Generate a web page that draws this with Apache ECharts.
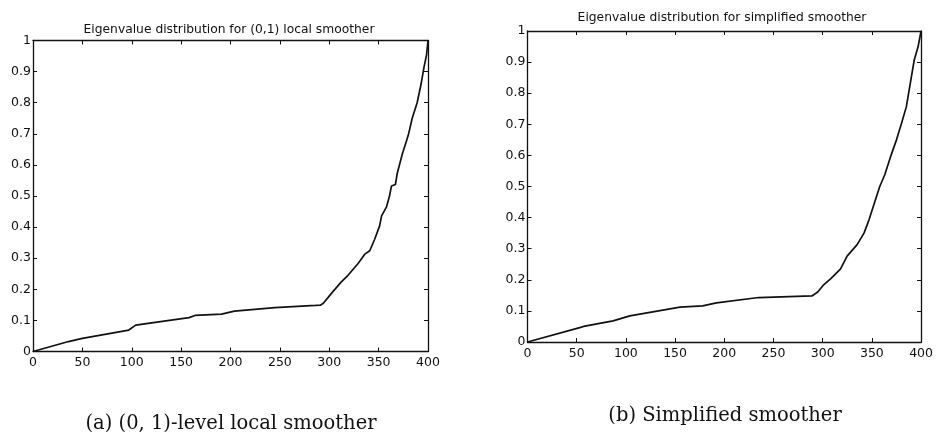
<!DOCTYPE html>
<html>
<head>
<meta charset="utf-8">
<title>Eigenvalue distribution</title>
<script src="https://cdn.jsdelivr.net/npm/echarts@6/dist/echarts.min.js"></script>
<style>
  html, body { margin: 0; padding: 0; background: #fff; }
  #chart { width: 936px; height: 436px; }
</style>
</head>
<body>
<div id="chart"></div>
<script>
// tick values for both plots
var xTicks = [0, 50, 100, 150, 200, 250, 300, 350, 400];
var yTicks = [0, 0.1, 0.2, 0.3, 0.4, 0.5, 0.6, 0.7, 0.8, 0.9, 1];

// (a) (0,1) local smoother - eigenvalues
var localX = [0, 36, 50, 97, 104, 158, 164, 191, 204, 245, 286, 291, 294, 302, 312, 319, 329, 336, 341, 346,
  351, 353, 358, 361, 363, 367, 369, 374, 380, 384, 389, 393, 396, 398.5, 400];
var localY = [0, 0.032, 0.042, 0.069, 0.085, 0.109, 0.116, 0.120, 0.130, 0.141, 0.148, 0.149, 0.155, 0.186, 0.223, 0.245, 0.282, 0.313, 0.324, 0.361,
  0.404, 0.436, 0.465, 0.500, 0.532, 0.537, 0.575, 0.635, 0.695, 0.750, 0.800, 0.860, 0.915, 0.953, 1.0];

// (b) simplified smoother
var simpleX = [0, 54, 57, 87, 104, 155, 178, 192, 235, 289, 295, 301, 308, 318, 325, 335, 342, 347, 352, 358,
  363, 369, 375, 380, 385, 389, 393, 397, 400];
var simpleY = [0, 0.047, 0.050, 0.068, 0.084, 0.112, 0.116, 0.126, 0.143, 0.148, 0.161, 0.184, 0.203, 0.234, 0.277, 0.313, 0.350, 0.392, 0.441, 0.500,
  0.537, 0.596, 0.650, 0.702, 0.756, 0.831, 0.906, 0.950, 1.0];

var titles = ['Eigenvalue distribution for (0,1) local smoother', 'Eigenvalue distribution for simplified smoother'];
var captions = ['(a) (0, 1)-level local smoother', '(b) Simplified smoother'];

function zip(xs, ys) {
  var out = [];
  for (var i = 0; i < xs.length; i++) out.push([xs[i], ys[i]]);
  return out;
}

var ink = '#111';
var tickFont = { color: ink, fontFamily: 'DejaVu Sans', fontSize: 12.5 };

// one matlab style box: bottom/left axes carry labels, top/right only ticks
function xAxisFor(grid, pos) {
  return {
    gridIndex: grid, type: 'value', position: pos,
    min: xTicks[0], max: xTicks[xTicks.length - 1], interval: xTicks[1] - xTicks[0],
    axisLine: { show: true, onZero: false, lineStyle: { color: ink, width: 1.3 } },
    axisTick: { show: true, inside: true, length: 4, lineStyle: { color: ink } },
    axisLabel: pos === 'bottom' ? Object.assign({ show: true, margin: 5 }, tickFont) : { show: false },
    splitLine: { show: false }
  };
}
function yAxisFor(grid, pos) {
  return {
    gridIndex: grid, type: 'value', position: pos,
    min: yTicks[0], max: yTicks[yTicks.length - 1], interval: 0.1,
    axisLine: { show: true, onZero: false, lineStyle: { color: ink, width: 1.3 } },
    axisTick: { show: true, inside: true, length: 4, lineStyle: { color: ink } },
    axisLabel: pos === 'left' ? Object.assign({ show: true, margin: 2 }, tickFont) : { show: false },
    splitLine: { show: false }
  };
}

function textAt(x, y, text, font, size) {
  return {
    type: 'text', x: x, y: y,
    style: { text: text, fill: ink, fontFamily: font, fontSize: size, align: 'center', verticalAlign: 'middle' }
  };
}

var myChart = echarts.init(document.getElementById('chart'));
var option = {
  animation: false,
  backgroundColor: '#fff',
  grid: [
    { left: 33, top: 40.5, width: 395, height: 311 },
    { left: 527.5, top: 31, width: 395, height: 311 }
  ],
  xAxis: [xAxisFor(0, 'bottom'), xAxisFor(0, 'top'), xAxisFor(1, 'bottom'), xAxisFor(1, 'top')],
  yAxis: [yAxisFor(0, 'left'), yAxisFor(0, 'right'), yAxisFor(1, 'left'), yAxisFor(1, 'right')],
  series: [
    {
      type: 'line', xAxisIndex: 0, yAxisIndex: 0, data: zip(localX, localY),
      showSymbol: false, lineStyle: { color: ink, width: 1.7 }
    },
    {
      type: 'line', xAxisIndex: 2, yAxisIndex: 2, data: zip(simpleX, simpleY),
      showSymbol: false, lineStyle: { color: ink, width: 1.7 }
    }
  ],
  graphic: [
    textAt(229, 30, titles[0], 'DejaVu Sans', 12.3),
    textAt(722, 18, titles[1], 'DejaVu Sans', 12.3),
    textAt(231, 424, captions[0], 'DejaVu Serif', 19.5),
    textAt(725, 416, captions[1], 'DejaVu Serif', 19.5)
  ]
};
myChart.setOption(option);
</script>
</body>
</html>
